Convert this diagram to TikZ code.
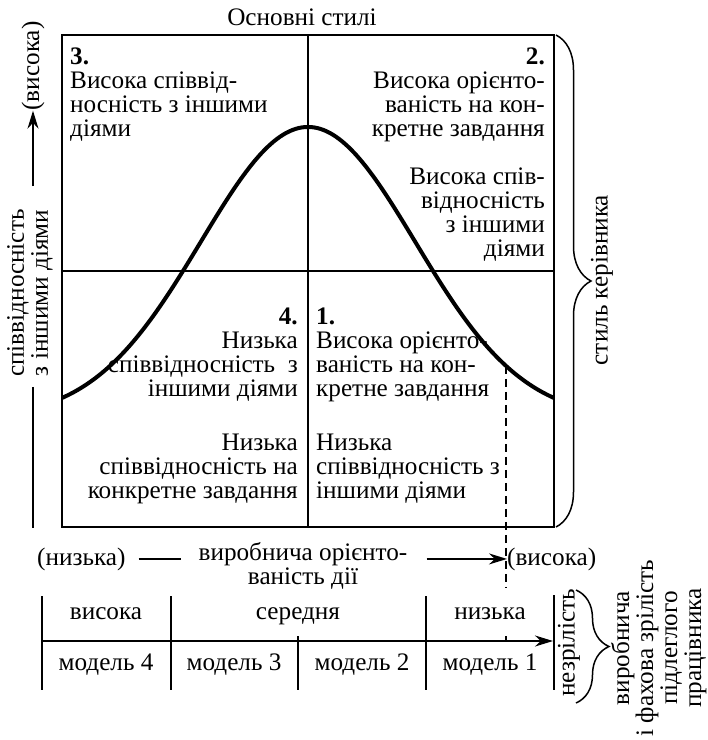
\documentclass[tikz,border=0pt]{standalone}
\usepackage{fontspec}
\setmainfont{Liberation Serif}
\usepackage{tikz}
\usetikzlibrary{positioning,calc,arrows.meta,decorations.pathreplacing}

\begin{document}
\begin{tikzpicture}[
    x=1pt, y=-1pt,
    txt/.style={inner sep=0pt, font=\fontsize{25.2}{24}\selectfont},
    qtxt/.style={txt, align=#1},
    frame/.style={line width=2pt},
    axis/.style={line width=1.5pt},
    arrow/.style={-{Stealth[length=18pt,width=11pt]}, line width=1.5pt},
    dashline/.style={line width=1.5pt, dash pattern=on 8pt off 5pt},
    brace/.style={decorate, decoration={brace, amplitude=#1}, line width=1.5pt},
    bell/.style={line width=4pt, line join=round}
]
\useasboundingbox (0,0) rectangle (708,740);

% Main grid
\node[draw, frame, minimum width=492pt, minimum height=492pt, inner sep=0pt] (grid) at (308,281) {};
\coordinate (midl) at ($(grid.west)+(0,-10)$);
\draw[frame] (grid.north) -- (grid.south);
\draw[frame] (midl) -- (midl -| grid.east);

% Title
\node[txt, above=8pt of grid, xshift=-6pt] (title) {Основні стилі};

% Bell curve
\draw[bell] plot[domain=-2.46:2.46, samples=80, smooth] ({308+100*\x}, {419-292*exp(-\x*\x/2.3)});

% Quadrants
\node[qtxt=left, anchor=north west] (q3) at (70,48) {\textbf{3.}\\Висока співвід-\\носність з іншими\\діями};
\node[qtxt=right, anchor=north east] (q2) at (545,48) {\textbf{2.}\\Висока орієнто-\\ваність на кон-\\кретне завдання\\[24pt]Висока спів-\\відносність\\з іншими\\діями};
\node[qtxt=right, anchor=north east] (q4) at (298,308) {\textbf{4.}\\Низька\\співвідносність\ \ з\\іншими діями\\[30pt]Низька\\співвідносність на\\конкретне завдання};
\node[qtxt=left, anchor=north west] (q1) at (316,308) {\textbf{1.}\\Висока орієнто-\\ваність на кон-\\кретне завдання\\[30pt]Низька\\співвідносність з\\іншими діями};

% Dashed marker
\coordinate (dtop) at (506,{419-292*exp(-1.98*1.98/2.3)});
\coordinate (dbot) at (506,587);
\coordinate (dtick) at (506,636);
\coordinate (dend) at (506,641);
\draw[dashline] (dtop) -- (dbot);
\draw[dashline] (dtick) -- (dend);

% Left axis
\node[qtxt=center, rotate=90] (yl) at (30,293) {співвідносність\\з іншими діями};
\node[txt, rotate=90] (yhigh) at (33,66) {(висока)};
\draw[axis] (yl.west -| yhigh.west) ++(0,10) coordinate (ylo) -- (ylo |- grid.south);
\draw[arrow] ($(yl.east -| yhigh.west)+(0,-23)$) -- (yhigh.west);

% Bottom axis
\node[txt, anchor=base west] (xlow) at (37,565) {(низька)};
\node[qtxt=center] (xlab) at (303,566) {виробнича орієнто-\\ваність дії};
\node[txt, anchor=base west] (xhigh) at (507,565) {(висока)};
\draw[axis] ($(xlow.east)+(13,0)$) -- ($(xlow.east)+(55,0)$);
\draw[arrow] ($(xlab.east |- xlow.east)+(19,0)$) -- (xhigh.west |- xlow.east);

% Maturity table
\draw[frame] (42,596) -- (42,690);
\draw[frame] (171,596) -- (171,690);
\draw[frame] (298,636) -- (298,690);
\draw[frame] (426,596) -- (426,690);
\draw[frame] (554,595) -- (554,690);
\draw[arrow, line width=2pt] (42,641) -- (553,641);
\node[txt, anchor=base] (lev4) at (106,619) {висока};
\node[txt, anchor=base] (lev32) at (298,619) {середня};
\node[txt, anchor=base] (lev1) at (490,619) {низька};
\node[txt, anchor=base] (m4) at (106,670) {модель 4};
\node[txt, anchor=base] (m3) at (234,670) {модель 3};
\node[txt, anchor=base] (m2) at (362,670) {модель 2};
\node[txt, anchor=base] (m1) at (490,670) {модель 1};
\node[txt, rotate=90] (immat) at (569,643) {незрілість};

% Braces
\draw[brace=35pt] (556,35) -- (556,527);
\node[txt, rotate=90] (lead) at (602,280) {стиль керівника};
\draw[brace=33pt] (576,590) -- (576,703);
\node[qtxt=center, rotate=90, anchor=north] (matur) at (611,648) {виробнича\\і фахова зрілість\\підлеглого\\працівника};

\end{tikzpicture}
\end{document}
